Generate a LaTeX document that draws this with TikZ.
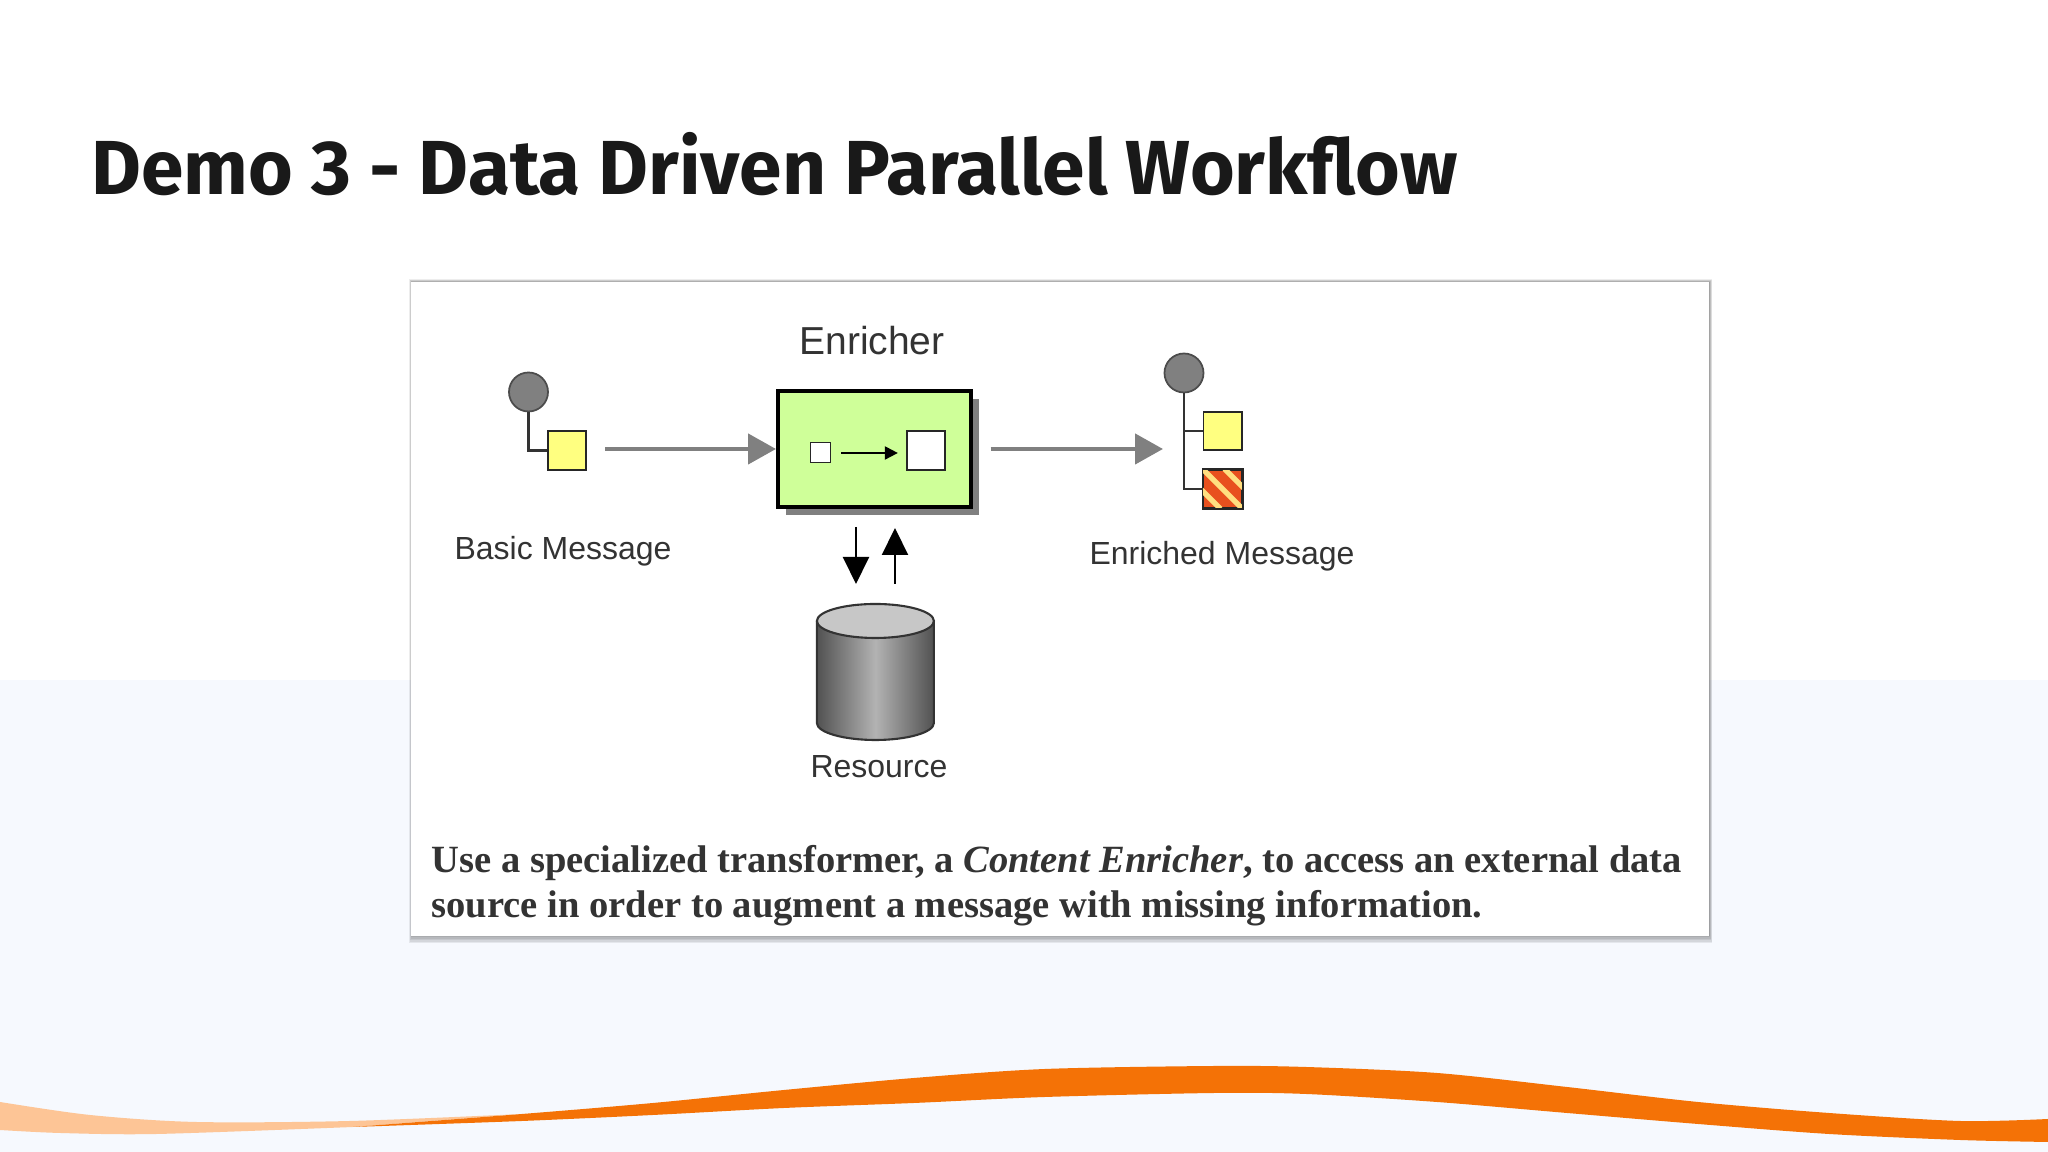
\documentclass[tikz,border=0pt]{standalone}
\usepackage{fontspec}
\setmainfont{Liberation Serif}
\setsansfont{Liberation Sans}
\newfontfamily\titlefont{Fira Sans}
\usetikzlibrary{arrows.meta,positioning,shadows,shapes.geometric}
\definecolor{pagelow}{HTML}{F6F9FE}
\definecolor{msggrey}{HTML}{808080}
\definecolor{msgyellow}{HTML}{FFFF80}
\definecolor{procgreen}{HTML}{CFFF99}
\definecolor{swoosh}{HTML}{F47206}
\definecolor{swooshpale}{HTML}{FDC596}
\definecolor{addred}{HTML}{E8501E}
\definecolor{addstripe}{HTML}{FFDF80}
\tikzset{
	headline/.style={anchor=base west,inner sep=0pt,font=\titlefont\bfseries\fontsize{21.8}{26}\selectfont,text=black!90},
	tag/.style={anchor=base,inner sep=0pt,font=\sffamily\fontsize{9.1}{11}\selectfont,text=black!80},
	bigtag/.style={tag,font=\sffamily\fontsize{11.1}{13}\selectfont},
	blurb/.style={anchor=base west,inner sep=0pt,align=left,font=\bfseries\fontsize{10.97}{12.9}\selectfont,text=black!80},
	header/.style={circle,draw=black!70,fill=msggrey,line width=0.5pt,minimum size=0.39cm,inner sep=0pt},
	msg/.style={rectangle,draw=black!85,line width=0.5pt,minimum size=0.385cm,inner sep=0pt},
	wire/.style={draw=black!80,line width=0.6pt},
	flow/.style={draw=msggrey,line width=1.3pt,-{Triangle[length=0.28cm,width=0.3cm]}},
	call/.style={draw=black,line width=0.6pt,-{Triangle[length=0.27cm,width=0.26cm]}}
}
\begin{document}
\begin{tikzpicture}
	\useasboundingbox (0,0) rectangle (20.48,11.52);
	\fill[white] (0,4.72) rectangle (20.48,11.52);
	\fill[pagelow] (0,0) rectangle (20.48,4.72);

	% swoosh
	\fill[swooshpale] plot[smooth] coordinates {(0,.50) (.9,.37) (1.96,.30) (3.5,.31) (5.22,.38)} -- (3.53,.25) -- plot[smooth] coordinates {(3.53,.25) (1.57,.18) (.6,.19) (0,.22)} -- cycle;
	\fill[swoosh] plot[smooth] coordinates {(3.53,.25) (5.22,.38) (6.53,.49) (7.84,.62) (9.14,.74) (10.45,.83) (12.15,.86) (13.06,.85) (14.37,.79) (15.67,.65) (16.98,.50) (18.29,.39) (19.6,.31) (20.48,.33)} -- plot[smooth] coordinates {(20.48,.10) (19.6,.12) (18.29,.18) (16.98,.28) (15.67,.39) (14.37,.50) (13.06,.58) (12.15,.59) (10.45,.55) (9.14,.49) (7.84,.44) (6.53,.37) (5.22,.31) (3.53,.25)} -- cycle;

	\node[headline] (head) at (0.91,9.57) {Demo 3 - Data Driven Parallel Workflow};

	\foreach \r in {0,0.005,0.01,0.015,0.02,0.025}
		\fill[black,opacity=0.07] (4.115-\r,2.16-3*\r) rectangle (17.085+\r+0.01,8.70+\r);
	\node[rectangle,fill=white,minimum width=12.975cm,minimum height=6.54cm,inner sep=0pt] (panel) at (10.6,5.43) {};

	\node[header] (basichd) at (5.285,7.60) {};
	\node[msg,fill=msgyellow] (basicbody) at (5.67,7.015) {};
	\node[tag] (basiclbl) at (5.63,5.92) {Basic Message};
	\draw[wire] (basichd) |- (basicbody);

	\node[rectangle,draw=black,line width=1.14pt,fill=procgreen,minimum width=1.926cm,minimum height=1.16cm,inner sep=0pt,
		drop shadow={shadow xshift=0.08cm,shadow yshift=-0.08cm,fill=msggrey,opacity=1}] (enricher) at (8.743,7.03) {};
	\node[bigtag] (enrlbl) at (8.72,7.97) {Enricher};
	\node[msg,fill=white,minimum size=0.2cm] (insq) at (8.205,6.995) {};
	\node[msg,fill=white] (outsq) at (9.26,7.015) {};
	\coordinate (instart) at (8.41,6.99);
	\draw[line width=0.6pt,shorten >=0.08cm,-{Triangle[length=0.13cm,width=0.13cm]}] (instart) -- (instart -| outsq.west);

	\coordinate (basicout) at (6.05,7.03);
	\coordinate (enrout) at (9.905,7.03);
	\coordinate (richin) at (11.63,7.03);
	\draw[flow] (basicout) -- (basicout -| enricher.west);
	\draw[flow] (enrout) -- (richin);

	\coordinate (downs) at (8.56,6.25);
	\coordinate (downe) at (8.56,5.68);
	\coordinate (ups) at (8.95,5.68);
	\coordinate (upe) at (8.95,6.24);
	\draw[call] (downs) -- (downe);
	\draw[call] (ups) -- (upe);

	% resource
	\fill[left color=black!68,right color=black!68,middle color=black!30] (8.169,5.31) -- (8.169,4.29) arc[start angle=180,end angle=360,x radius=0.585,y radius=0.17] -- (9.339,5.31) -- cycle;
	\draw[black!80,line width=0.6pt] (8.169,5.31) -- (8.169,4.29) arc[start angle=180,end angle=360,x radius=0.585,y radius=0.17] -- (9.339,5.31);
	\node[ellipse,draw=black!80,fill=black!22,line width=0.6pt,minimum width=1.17cm,minimum height=0.34cm,inner sep=0pt] (store) at (8.754,5.31) {};
	\node[tag] (reslbl) at (8.79,3.74) {Resource};

	\node[header] (richhd) at (11.84,7.79) {};
	\node[msg,fill=msgyellow] (richbody) at (12.227,7.21) {};
	\node[msg,fill=addred] (richadd) at (12.227,6.63) {};
	\begin{scope}
		\clip (richadd.south west) rectangle (richadd.north east);
		\foreach \s in {-0.22,0,0.22}
			\draw[addstripe,line width=1.5pt] ([xshift=\s cm]richadd.north west) -- ++(0.4,-0.4);
	\end{scope}
	\draw[black!85,line width=0.5pt] (richadd.south west) rectangle (richadd.north east);
	\draw[wire] (richhd) |- (richbody);
	\draw[wire] (richhd) |- (richadd);
	\node[tag] (richlbl) at (12.22,5.87) {Enriched Message};

	\node[blurb] (blurbtxt) at (4.31,2.34) {Use a specialized transformer, a \textit{Content Enricher}, to access an external data\\source in order to augment a message with missing information.};
\end{tikzpicture}
\end{document}
